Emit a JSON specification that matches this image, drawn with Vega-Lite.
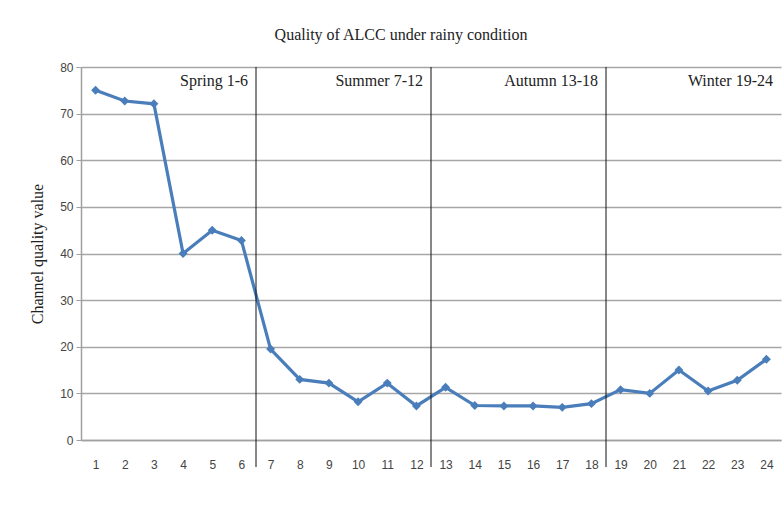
{
  "$schema": "https://vega.github.io/schema/vega-lite/v6.json",
  "autosize": {"type": "none"},
  "width": 700,
  "height": 373,
  "padding": {"left": 81, "top": 67, "right": 2, "bottom": 91},
  "background": "white",
  "config": {"view": {"stroke": null}},
  "title": {
    "text": "Quality of ALCC under rainy condition",
    "font": "Liberation Serif",
    "fontSize": 16,
    "fontWeight": "normal",
    "color": "#222222",
    "offset": 18,
    "dx": -30
  },
  "datasets": {
    "quality": [
      {"month": 1, "value": 75.0},
      {"month": 2, "value": 72.7},
      {"month": 3, "value": 72.1},
      {"month": 4, "value": 40.0},
      {"month": 5, "value": 45.0},
      {"month": 6, "value": 42.8},
      {"month": 7, "value": 19.5},
      {"month": 8, "value": 13.0},
      {"month": 9, "value": 12.2},
      {"month": 10, "value": 8.2},
      {"month": 11, "value": 12.2},
      {"month": 12, "value": 7.3},
      {"month": 13, "value": 11.3},
      {"month": 14, "value": 7.4},
      {"month": 15, "value": 7.3},
      {"month": 16, "value": 7.3},
      {"month": 17, "value": 7.0},
      {"month": 18, "value": 7.8},
      {"month": 19, "value": 10.8},
      {"month": 20, "value": 10.0},
      {"month": 21, "value": 15.0},
      {"month": 22, "value": 10.5},
      {"month": 23, "value": 12.8},
      {"month": 24, "value": 17.3}
    ],
    "seasons": [
      {"season": "Spring 1-6", "end": 6.5, "top": 80, "bottom": -5.8, "labelY": 77},
      {"season": "Summer 7-12", "end": 12.5, "top": 80, "bottom": -5.8, "labelY": 77},
      {"season": "Autumn 13-18", "end": 18.5, "top": 80, "bottom": -5.8, "labelY": 77},
      {"season": "Winter 19-24", "end": 24.5, "top": 80, "bottom": -5.8, "labelY": 77}
    ]
  },
  "layer": [
    {
      "data": {"name": "quality"},
      "mark": {
        "type": "line",
        "color": "#4a7ebb",
        "strokeWidth": 3.2,
        "point": {"shape": "diamond", "size": 80, "filled": true, "color": "#4a7ebb"}
      },
      "encoding": {
        "x": {
          "field": "month",
          "type": "quantitative",
          "scale": {"domain": [0.5, 24.5], "nice": false, "zero": false},
          "axis": {
            "values": [1,2,3,4,5,6,7,8,9,10,11,12,13,14,15,16,17,18,19,20,21,22,23,24],
            "tickCount": 30,
            "labelOverlap": false,
            "title": null,
            "grid": false,
            "ticks": false,
            "domain": true,
            "domainColor": "#a0a0a0",
            "domainWidth": 1.5,
            "labelFont": "Liberation Sans",
            "labelFontSize": 12,
            "labelColor": "#444444",
            "labelPadding": 19
          }
        },
        "y": {
          "field": "value",
          "type": "quantitative",
          "scale": {"domain": [0, 80], "nice": false},
          "axis": {
            "values": [0,10,20,30,40,50,60,70,80],
            "tickCount": 10,
            "title": "Channel quality value",
            "titleFont": "Liberation Serif",
            "titleFontSize": 16,
            "titleFontWeight": "normal",
            "titleColor": "#222222",
            "titlePadding": 14,
            "grid": true,
            "gridColor": "#a6a6a6",
            "gridWidth": 1.5,
            "domain": true,
            "domainColor": "#a0a0a0",
            "domainWidth": 1.5,
            "ticks": true,
            "tickSize": 5,
            "tickColor": "#a0a0a0",
            "labelFont": "Liberation Sans",
            "labelFontSize": 12,
            "labelColor": "#444444",
            "labelPadding": 3
          }
        }
      }
    },
    {
      "data": {"name": "seasons"},
      "transform": [{"filter": "datum.end < 24"}],
      "mark": {"type": "rule", "color": "#111111", "strokeWidth": 1},
      "encoding": {
        "x": {"field": "end", "type": "quantitative"},
        "y": {"field": "top", "type": "quantitative"},
        "y2": {"field": "bottom"}
      }
    },
    {
      "data": {"name": "seasons"},
      "mark": {
        "type": "text",
        "align": "right",
        "baseline": "middle",
        "dx": -8,
        "font": "Liberation Serif",
        "fontSize": 16,
        "color": "#222222"
      },
      "encoding": {
        "x": {"field": "end", "type": "quantitative"},
        "y": {"field": "labelY", "type": "quantitative"},
        "text": {"field": "season", "type": "nominal"}
      }
    }
  ]
}
